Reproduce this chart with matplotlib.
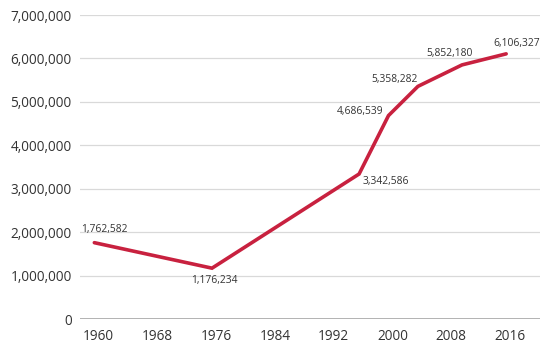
import matplotlib
matplotlib.use("Agg")
import matplotlib.pyplot as plt
from matplotlib.ticker import FuncFormatter
import matplotlib.transforms as mtransforms

years = [1960, 1976, 1996, 2000, 2004, 2010, 2016]
population = [1762582, 1176234, 3342586, 4686539, 5358282, 5852180, 6106327]
xticks = [1960, 1968, 1976, 1984, 1992, 2000, 2008, 2016]
yticks = [0, 1000000, 2000000, 3000000, 4000000, 5000000, 6000000, 7000000]

# label offsets in pixels (dx, dy, ha, va)
offsets = [(-13, 13, "left", "center"),
           (2, -12, "center", "center"),
           (4, -8, "left", "center"),
           (-5, 4, "right", "center"),
           (0, 7, "right", "center"),
           (-12, 11, "center", "center"),
           (11, 10, "center", "center")]

plt.rcParams['font.family'] = ['Open Sans', 'DejaVu Sans']

fig = plt.figure(figsize=(5.5, 3.47), dpi=100)
ax = fig.add_axes([80/550, 1-319.3/347, 460/550, (319.3-15)/347])

ax.plot(years, population, color="#C8213F", linewidth=2.6, solid_capstyle="round",
        solid_joinstyle="miter", zorder=3)

for x, y, (dx, dy, ha, va) in zip(years, population, offsets):
    ax.annotate(f"{y:,}", (x, y), xytext=(dx, dy), textcoords="offset pixels",
                ha=ha, va=va, fontsize=7.4, color="#333333", zorder=4)

ax.set_xlim(1958.05, 2020.6)
ax.set_ylim(0, 7000000)
ax.set_xticks(xticks)
ax.set_yticks(yticks)
ax.yaxis.set_major_formatter(FuncFormatter(lambda v, p: f"{int(v):,}"))

for v in yticks[1:]:
    ax.axhline(v, color="#d9d9d9", linewidth=0.9, zorder=1)
ax.axhline(0, color="#a6a6a6", linewidth=1.2, zorder=2)

for s in ax.spines.values():
    s.set_visible(False)
ax.tick_params(axis="both", length=0, labelsize=9.8, labelcolor="#333333")
ax.tick_params(axis="y", pad=6)
ax.tick_params(axis="x", pad=7)

offset = mtransforms.ScaledTranslation(4/100, 0, fig.dpi_scale_trans)
for lbl in ax.get_xticklabels():
    lbl.set_transform(lbl.get_transform() + offset)

fig.savefig("out.png", dpi=100)
